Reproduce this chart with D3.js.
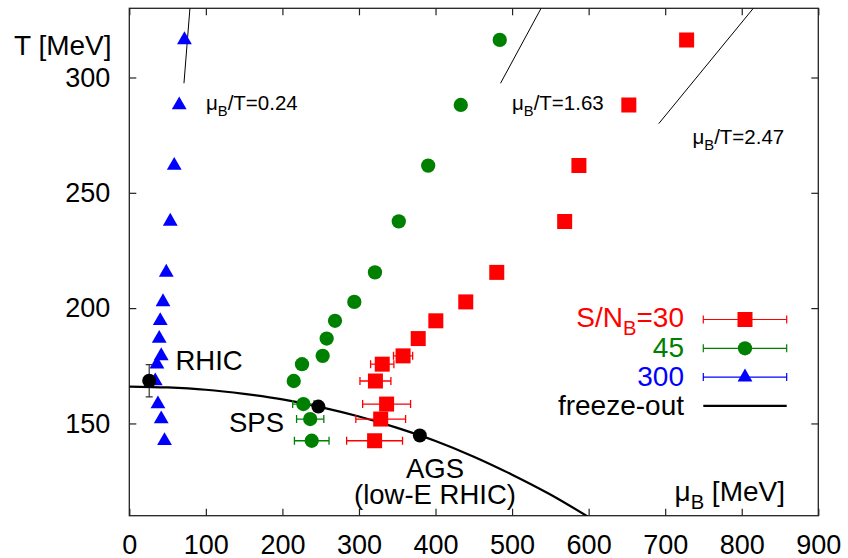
<!DOCTYPE html>
<html>
<head>
<meta charset="utf-8">
<script src="https://cdn.jsdelivr.net/npm/d3@7"></script>
<style>
  body { margin: 0; background: #fff; }
  svg { display: block; font-family: "Liberation Sans", Arial, sans-serif; }
</style>
</head>
<body>
<div id="chart"></div>
<script>
// temperatures shared by the three S/N_B series
const temps = [316.3, 288.1, 261.8, 237.6, 215.5, 202.7, 194.5, 186.8, 179.3, 175.7, 168.4, 158.4, 151.9, 142.5];
// S/N_B = 30 (red squares)
const mu30 = [728, 652.5, 587.3, 568.7, 480, 439.5, 400.4, 377.4, 357.6, 330.4, 321.5, 336.1, 328.4, 320.4];
const err30 = [0, 0, 0, 0, 0, 0, 0, 0, 12.5, 15.2, 20.2, 31.3, 32.5, 36.5];
// S/N_B = 45 (green circles)
const mu45 = [483.9, 433, 390.4, 352, 320.9, 293.9, 268.7, 257.8, 252.6, 225.6, 214.8, 227.4, 236.3, 238.3];
const err45 = [0, 0, 0, 0, 0, 0, 0, 0, 0, 0, 0, 14, 17.8, 22.6];
// S/N_B = 300 (blue triangles)
const mu300 = [72, 65.2, 58.7, 53.5, 48.3, 44, 40.4, 39.1, 41.7, 36.1, 33.9, 37.4, 41.7, 46];

// freeze-out points and curve
const freezeMu = [26, 247, 379.5];
const freezeT = [168.5, 157.3, 144.8];
const freezeErr = [7, 0, 0];
const curveMu = [0, 50, 100, 150, 200, 250, 300, 350, 400, 450, 500, 550, 600];
const curveT = [166, 165.6, 164.6, 162.8, 160.4, 157.1, 153.0, 148.1, 142.4, 135.6, 127.8, 119.2, 109.4];

// lines of constant mu_B/T
const ratios = [0.24, 1.63, 2.47];
const ratioTmin = [297.5, 297.5, 280];

const xTicks = [0, 100, 200, 300, 400, 500, 600, 700, 800, 900];
const yTicks = [150, 200, 250, 300];

const W = 848, H = 558;
const pLeft = 129.3, pRight = 818.3, pTop = 8.3, pBottom = 515.7;

const x = d3.scaleLinear().domain([0, 900]).range([pLeft, pRight]);
const y = d3.scaleLinear().domain([110, 330]).range([pBottom, pTop]);

const svg = d3.select("#chart").append("svg")
   .attr("width", W).attr("height", H);

svg.append("clipPath").attr("id", "plot")
   .append("rect")
   .attr("x", pLeft).attr("y", pTop)
   .attr("width", pRight - pLeft).attr("height", pBottom - pTop);

// axes, ticks inward on all four sides
function styleAxis(g) {
   g.select(".domain").remove();
   g.selectAll(".tick line").attr("stroke", "#222").attr("stroke-width", 1.2);
   g.selectAll(".tick text").attr("font-size", 27).attr("fill", "#000")
      .attr("font-family", "Liberation Sans, Arial, sans-serif");
}
svg.append("g").attr("transform", "translate(0," + pBottom + ")")
   .call(d3.axisBottom(x).tickValues(xTicks).tickSize(-7).tickPadding(19))
   .call(styleAxis);
svg.append("g").attr("transform", "translate(0," + pTop + ")")
   .call(d3.axisTop(x).tickValues(xTicks).tickSize(-7).tickFormat(""))
   .call(styleAxis);
svg.append("g").attr("transform", "translate(" + pLeft + ",0)")
   .call(d3.axisLeft(y).tickValues(yTicks).tickSize(-7).tickPadding(19))
   .call(styleAxis);
svg.append("g").attr("transform", "translate(" + pRight + ",0)")
   .call(d3.axisRight(y).tickValues(yTicks).tickSize(-7).tickFormat(""))
   .call(styleAxis);

svg.append("rect")
   .attr("x", pLeft).attr("y", pTop)
   .attr("width", pRight - pLeft).attr("height", pBottom - pTop)
   .attr("fill", "none").attr("stroke", "#222").attr("stroke-width", 1.3);

const plot = svg.append("g").attr("clip-path", "url(#plot)");

// constant mu_B/T lines
ratios.forEach((r, i) => {
   plot.append("line")
      .attr("x1", x(r * ratioTmin[i])).attr("y1", y(ratioTmin[i]))
      .attr("x2", x(r * 330)).attr("y2", y(330))
      .attr("stroke", "#000").attr("stroke-width", 1);
});

// freeze-out curve
const curveData = curveMu.map((m, i) => [m, curveT[i]]);
plot.append("path")
   .datum(curveData)
   .attr("d", d3.line().x(d => x(d[0])).y(d => y(d[1])).curve(d3.curveMonotoneX))
   .attr("fill", "none").attr("stroke", "#000").attr("stroke-width", 2.2);

function hErrors(mus, errs, color) {
   const cap = 4;
   temps.forEach((t, i) => {
      if (!errs[i]) return;
      const x0 = x(mus[i] - errs[i]), x1 = x(mus[i] + errs[i]), yy = y(t);
      plot.append("path")
         .attr("d", `M${x0},${yy}H${x1}M${x0},${yy - cap}V${yy + cap}M${x1},${yy - cap}V${yy + cap}`)
         .attr("stroke", color).attr("stroke-width", 1.3).attr("fill", "none");
   });
}

function markers(mus, type, size, color) {
   plot.selectAll(null)
      .data(mus.map((m, i) => [m, temps[i]]))
      .enter().append("path")
      .attr("transform", d => `translate(${x(d[0])},${y(d[1])})`)
      .attr("d", d3.symbol().type(type).size(size))
      .attr("fill", color);
}

hErrors(mu45, err45, "#008000");
hErrors(mu30, err30, "#ff0000");
markers(mu300, d3.symbolTriangle, 95, "#0000ff");
markers(mu45, d3.symbolCircle, 160, "#008000");
markers(mu30, d3.symbolSquare, 225, "#ff0000");

// freeze-out points
freezeMu.forEach((m, i) => {
   if (freezeErr[i]) {
      const y0 = y(freezeT[i] - freezeErr[i]), y1 = y(freezeT[i] + freezeErr[i]), xx = x(m);
      plot.append("path")
         .attr("d", `M${xx},${y0}V${y1}M${xx - 3.5},${y0}H${xx + 3.5}M${xx - 3.5},${y1}H${xx + 3.5}`)
         .attr("stroke", "#333").attr("stroke-width", 1.2).attr("fill", "none");
   }
   plot.append("circle")
      .attr("cx", x(m)).attr("cy", y(freezeT[i])).attr("r", 7)
      .attr("fill", "#000");
});

// text helpers
function subText(xp, yp, main, sub, rest, size, color, anchor) {
   const t = svg.append("text")
      .attr("x", xp).attr("y", yp)
      .attr("font-size", size).attr("fill", color)
      .attr("text-anchor", anchor || "start");
   t.append("tspan").text(main);
   t.append("tspan").attr("font-size", size * 0.72).attr("dy", size * 0.3).text(sub);
   t.append("tspan").attr("dy", -size * 0.3).text(rest);
   return t;
}
function label(xp, yp, txt, size, anchor) {
   svg.append("text").attr("x", xp).attr("y", yp)
      .attr("font-size", size).attr("text-anchor", anchor || "start")
      .attr("fill", "#000").text(txt);
}

label(14, 54.5, "T [MeV]", 28);
subText(785, 501, "\u03bc", "B", " [MeV]", 28, "#000", "end");

subText(206, 110, "\u03bc", "B", "/T=0.24", 20.5, "#000");
subText(512, 110, "\u03bc", "B", "/T=1.63", 20.5, "#000");
subText(692.5, 143.5, "\u03bc", "B", "/T=2.47", 20.5, "#000");

label(175.5, 370, "RHIC", 27.5);
label(229, 431.5, "SPS", 27.5);
label(435, 478, "AGS", 27.5, "middle");
label(435, 503.5, "(low-E RHIC)", 27.5, "middle");

// legend
const legendNames = ["30", "45", "300", "freeze-out"];
const legendColors = ["#ff0000", "#008000", "#0000ff", "#000"];
const legendSymbols = [d3.symbolSquare, d3.symbolCircle, d3.symbolTriangle, null];
const legendSizes = [225, 160, 95, 0];
const lx0 = 703.3, lx1 = 786.7, lxm = 745, ly0 = 319.5, lstep = 28.8;

legendNames.forEach((name, i) => {
   const yy = ly0 + i * lstep;
   if (i === 0) {
      subText(684, yy + 7.5, "S/N", "B", "=30", 28, legendColors[i], "end");
   } else {
      svg.append("text").attr("x", 684).attr("y", yy + 9)
         .attr("font-size", 28).attr("text-anchor", "end")
         .attr("fill", legendColors[i]).text(name);
   }
   if (legendSymbols[i]) {
      svg.append("path")
         .attr("d", `M${lx0},${yy}H${lx1}M${lx0},${yy - 4}V${yy + 4}M${lx1},${yy - 4}V${yy + 4}`)
         .attr("stroke", legendColors[i]).attr("stroke-width", 1.2).attr("fill", "none");
      svg.append("path")
         .attr("transform", `translate(${lxm},${yy})`)
         .attr("d", d3.symbol().type(legendSymbols[i]).size(legendSizes[i]))
         .attr("fill", legendColors[i]);
   } else {
      svg.append("line")
         .attr("x1", lx0).attr("x2", lx1).attr("y1", yy).attr("y2", yy)
         .attr("stroke", "#000").attr("stroke-width", 2.2);
   }
});
</script>
</body>
</html>
